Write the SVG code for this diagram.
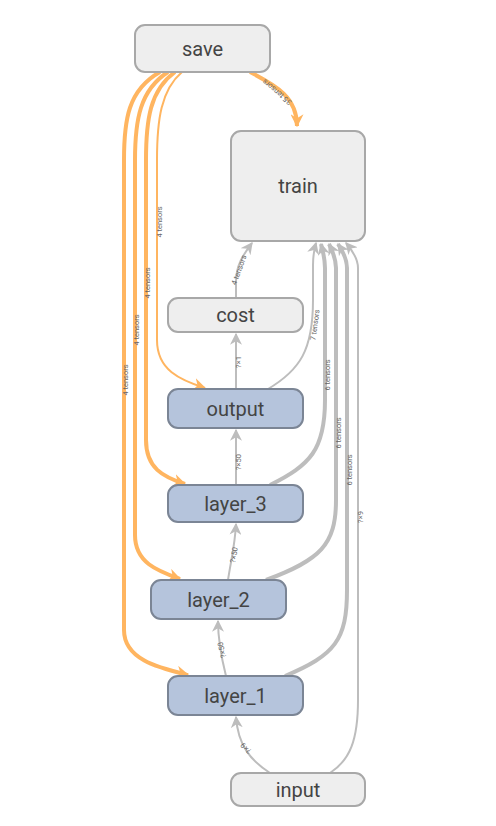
<svg xmlns="http://www.w3.org/2000/svg" width="496" height="826" viewBox="0 0 496 826">
<style>
.op rect{fill:#eeeeee;stroke:#a8a8a8;stroke-width:2}
.mod rect{fill:#b5c4dc;stroke:#7b8595;stroke-width:2}
.nl{font-family:Roboto,"Liberation Sans",sans-serif;font-size:20px;fill:#444;text-anchor:middle;dominant-baseline:central}
.e{fill:none;stroke:#bdbdbd}
.o{fill:none;stroke:#ffb560}
.el{font-family:Roboto,"Liberation Sans",sans-serif;font-size:7.5px;fill:#666;text-anchor:middle;dominant-baseline:central}
</style>
<defs>
<marker id="ag" markerUnits="userSpaceOnUse" markerWidth="12" markerHeight="12" viewBox="0 0 10 10" refX="9" refY="5" orient="auto"><path d="M0,0 L10,5 L0,10 L3,5 z" fill="#bdbdbd"/></marker>
<marker id="ao" markerUnits="userSpaceOnUse" markerWidth="13" markerHeight="13" viewBox="0 0 10 10" refX="9" refY="5" orient="auto"><path d="M0,0 L10,5 L0,10 L3,5 z" fill="#ffb560"/></marker>
</defs>
<g id="connectors">
<path class="o" stroke-width="4" d="M250,72 C272,84 297,95 297,126" marker-end="url(#ao)"/>
<path class="o" stroke-width="2" d="M182,72 C161,90 157,120 157,160 L157,340 C157,370 180,380 205,388" marker-end="url(#ao)"/>
<path class="o" stroke-width="4" d="M175,72 C150,90 146,120 146,160 L146,440 C146,468 163,477 185,484" marker-end="url(#ao)"/>
<path class="o" stroke-width="4" d="M168,72 C140,90 135,120 135,160 L135,535 C135,563 158,571 180,579" marker-end="url(#ao)"/>
<path class="o" stroke-width="4" d="M160,72 C128,90 124,120 124,160 L124,630 C124,660 160,668 188,675" marker-end="url(#ao)"/>
<path class="e" stroke-width="2" d="M236,298 L236,282 C236,264 244,254 252,243" marker-end="url(#ag)"/>
<path class="e" stroke-width="2" d="M236,389 L236,334" marker-end="url(#ag)"/>
<path class="e" stroke-width="2" d="M236,485 L236,430" marker-end="url(#ag)"/>
<path class="e" stroke-width="2" d="M228,580 C231,560 235,545 236,524" marker-end="url(#ag)"/>
<path class="e" stroke-width="2" d="M226,676 C222,660 218,640 218,621" marker-end="url(#ag)"/>
<path class="e" stroke-width="2" d="M270,773 C250,760 238,745 236,717" marker-end="url(#ag)"/>
<path class="e" stroke-width="2" d="M268,389 C300,370 313,350 313,300 L313,265 C313,255 314,250 316,243" marker-end="url(#ag)"/>
<path class="e" stroke-width="4" d="M270,485 C310,465 325,450 325,400 L325,268 C325,258 323,252 321,244" marker-end="url(#ag)"/>
<path class="e" stroke-width="4" d="M266,580 C320,560 336,545 336,500 L336,268 C336,258 332,250 329,244" marker-end="url(#ag)"/>
<path class="e" stroke-width="4" d="M285,676 C335,655 347,640 347,590 L347,268 C347,258 342,250 338,244" marker-end="url(#ag)"/>
<path class="e" stroke-width="2" d="M330,773 C350,760 358,740 358,700 L358,268 C358,258 352,250 346,243" marker-end="url(#ag)"/>
<text class="el" transform="translate(277,92) rotate(-140)">35 tensors</text>
<text class="el" transform="translate(159,222) rotate(-90)">4 tensors</text>
<text class="el" transform="translate(147,283) rotate(-90)">4 tensors</text>
<text class="el" transform="translate(136,330) rotate(-90)">4 tensors</text>
<text class="el" transform="translate(125,380) rotate(-90)">4 tensors</text>
<text class="el" transform="translate(239,270) rotate(-70)">4 tensors</text>
<text class="el" transform="translate(238,362) rotate(-90)">?×1</text>
<text class="el" transform="translate(238,462) rotate(-90)">?×50</text>
<text class="el" transform="translate(234,555) rotate(-80)">?×50</text>
<text class="el" transform="translate(222,650) rotate(-103)">?×50</text>
<text class="el" transform="translate(246,748) rotate(-135)">?×9</text>
<text class="el" transform="translate(315,325) rotate(-82)">7 tensors</text>
<text class="el" transform="translate(327,375) rotate(-90)">6 tensors</text>
<text class="el" transform="translate(338,433) rotate(-90)">6 tensors</text>
<text class="el" transform="translate(349,470) rotate(-90)">6 tensors</text>
<text class="el" transform="translate(360,517) rotate(-90)">?×9</text>
</g>
<g id="save" class="op"><rect x="135" y="25" width="135" height="47" rx="10"/><text class="nl" x="202.5" y="49">save</text></g>
<g id="train" class="op"><rect x="231" y="131" width="134" height="110" rx="10"/><text class="nl" x="298" y="186">train</text></g>
<g id="cost" class="op"><rect x="168" y="298" width="135" height="34" rx="10"/><text class="nl" x="235.5" y="315">cost</text></g>
<g id="output" class="mod"><rect x="168" y="389" width="135" height="39" rx="10"/><text class="nl" x="235.5" y="409">output</text></g>
<g id="layer_3" class="mod"><rect x="168" y="485" width="135" height="37" rx="10"/><text class="nl" x="235.5" y="504">layer_3</text></g>
<g id="layer_2" class="mod"><rect x="151" y="580" width="135" height="39" rx="10"/><text class="nl" x="218.5" y="600">layer_2</text></g>
<g id="layer_1" class="mod"><rect x="168" y="676" width="135" height="39" rx="10"/><text class="nl" x="235.5" y="696">layer_1</text></g>
<g id="input" class="op"><rect x="231" y="773" width="134" height="33" rx="10"/><text class="nl" x="298" y="790">input</text></g>
</svg>
